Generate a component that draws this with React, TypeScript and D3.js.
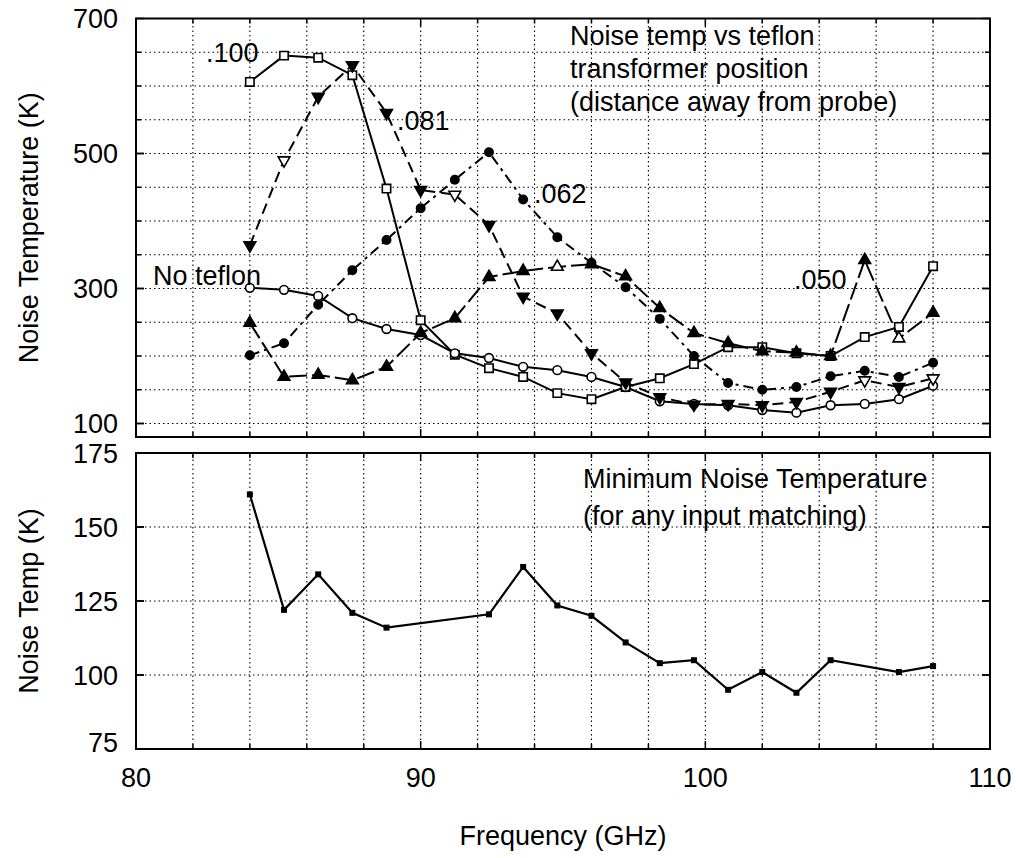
import React from 'react';
import * as d3 from 'd3';

// frequencies (GHz) shared by the top panel
const freq = [84.0, 85.2, 86.4, 87.6, 88.8, 90.0, 91.2, 92.4, 93.6, 94.8, 96.0, 97.2, 98.4, 99.6, 100.8, 102.0, 103.2, 104.4, 105.6, 106.8, 108.0];

// noise temperature (K) for each teflon position
const pos100 = [606, 645, 642, 616, 448, 253, 202, 182, 169, 145, 136, 154, 167, 188, 213, 213, 204, 200, 228, 243, 333];
const pos081 = [364, 490, 584, 631, 560, 446, 439, 394, 288, 263, 204, 161, 139, 128, 129, 127, 132, 147, 164, 154, 167];
const pos062 = [201, 219, 276, 327, 372, 419, 461, 502, 432, 376, 338, 302, 255, 200, 160, 150, 154, 170, 178, 169, 190];
const pos050 = [249, 169, 172, 164, 184, 234, 256, 317, 326, 332, 336, 318, 271, 234, 219, 207, 205, 200, 342, 226, 264];
const noTeflon = [301, 298, 289, 256, 240, 231, 204, 197, 184, 179, 169, 154, 133, 129, 127, 120, 116, 127, 129, 136, 156];

// indices drawn with hollow markers on the filled-triangle curves
const open081 = [1, 6, 18, 20];
const open050 = [9, 19];

// minimum noise temperature (bottom panel)
const minFreq = [84.0, 85.2, 86.4, 87.6, 88.8, 92.4, 93.6, 94.8, 96.0, 97.2, 98.4, 99.6, 100.8, 102.0, 103.2, 104.4, 106.8, 108.0];
const minTemp = [161, 122, 134, 121, 116, 120.5, 136.5, 123.5, 120, 111, 104, 105, 95, 101, 94, 105, 101, 103];

const xTicks = [80, 90, 100, 110];
const topTicks = [100, 300, 500, 700];
const botTicks = [75, 100, 125, 150, 175];

const FONT = 'Liberation Sans, Arial, Helvetica, sans-serif';

const x = d3.scaleLinear().domain([80, 110]).range([136, 990]);
const yTop = d3.scaleLinear().domain([80, 700]).range([437, 18.5]);
const yBot = d3.scaleLinear().domain([75, 175]).range([749, 453]);

const series = [
  { name: '.100', values: pos100, dash: null, sym: d3.symbolSquare, size: 70, fill: 'open', rot: 0, open: [] as number[] },
  { name: 'No teflon', values: noTeflon, dash: null, sym: d3.symbolCircle, size: 60, fill: 'open', rot: 0, open: [] as number[] },
  { name: '.081', values: pos081, dash: '11,6', sym: d3.symbolTriangle, size: 60, fill: 'solid', rot: 180, open: open081 },
  { name: '.062', values: pos062, dash: '10,5,3,5', sym: d3.symbolCircle, size: 55, fill: 'solid', rot: 0, open: [] as number[] },
  { name: '.050', values: pos050, dash: '18,5', sym: d3.symbolTriangle, size: 60, fill: 'solid', rot: 0, open: open050 },
];

function Panel({ y, grid, labels, top }: { y: any; grid: number[]; labels: number[]; top: boolean }) {
  const [y0, y1] = y.range();
  const vGrid = d3.range(82, 110, 2);
  return (
    <g>
      {grid.map(v => (
        <line key={'h' + v} x1={x(80)} x2={x(110)} y1={y(v)} y2={y(v)} stroke="#000" strokeWidth={1.1} strokeDasharray="1.5,3" />
      ))}
      {vGrid.map(v => (
        <line key={'v' + v} x1={x(v)} x2={x(v)} y1={y0} y2={y1} stroke="#000" strokeWidth={1.1} strokeDasharray="1.5,3" />
      ))}
      {/* ticks */}
      {[...grid, ...labels].map((v, i) => {
        const len = labels.includes(v) ? 8 : 5;
        return (
          <g key={'t' + i}>
            <line x1={x(80)} x2={x(80) + len} y1={y(v)} y2={y(v)} stroke="#000" strokeWidth={1.5} />
            <line x1={x(110)} x2={x(110) - len} y1={y(v)} y2={y(v)} stroke="#000" strokeWidth={1.5} />
          </g>
        );
      })}
      {d3.range(80, 111, 2).map(v => {
        const len = v % 10 === 0 ? 8 : 5;
        return (
          <g key={'xt' + v}>
            <line x1={x(v)} x2={x(v)} y1={y0} y2={y0 - len} stroke="#000" strokeWidth={1.5} />
            <line x1={x(v)} x2={x(v)} y1={y1} y2={y1 + len} stroke="#000" strokeWidth={1.5} />
          </g>
        );
      })}
      <rect x={x(80)} y={y1} width={x(110) - x(80)} height={y0 - y1} fill="none" stroke="#000" strokeWidth={2} />
      {labels.map(v => (
        <text key={'l' + v} x={118} y={y(v) + (v === 75 && !top ? -7 : 0)} dy="0.36em" textAnchor="end" fontSize={27} fontFamily={FONT}>
          {v}
        </text>
      ))}
    </g>
  );
}

export default function App() {
  const line = d3.line<[number, number]>().x(d => x(d[0])).y(d => yTop(d[1]));
  const lineBot = d3.line<[number, number]>().x(d => x(d[0])).y(d => yBot(d[1]));

  return (
    <svg width={1016} height={858} style={{ position: 'absolute', left: 0, top: 0, background: '#fff' }} fontFamily={FONT}>
      <rect width={1016} height={858} fill="#fff" />
      <Panel y={yTop} grid={d3.range(100, 700, 50)} labels={topTicks} top={true} />
      <Panel y={yBot} grid={[100, 125, 150]} labels={botTicks} top={false} />

      {series.map(s => {
        const pts = freq.map((f, i) => [f, s.values[i]] as [number, number]);
        const sym = d3.symbol().type(s.sym).size(s.size)();
        return (
          <g key={s.name}>
            <path d={line(pts) || ''} fill="none" stroke="#000" strokeWidth={2} strokeDasharray={s.dash || undefined} />
            {pts.map((p, i) => {
              const hollow = s.fill === 'open' || s.open.includes(i);
              return (
                <path
                  key={i}
                  d={sym || ''}
                  transform={`translate(${x(p[0])},${yTop(p[1])}) rotate(${s.rot})`}
                  fill={hollow ? '#fff' : '#000'}
                  stroke="#000"
                  strokeWidth={1.6}
                />
              );
            })}
          </g>
        );
      })}

      {/* bottom panel curve */}
      <path d={lineBot(minFreq.map((f, i) => [f, minTemp[i]] as [number, number])) || ''} fill="none" stroke="#000" strokeWidth={2.2} />
      {minFreq.map((f, i) => (
        <rect key={i} x={x(f) - 3} y={yBot(minTemp[i]) - 3} width={6} height={6} fill="#000" />
      ))}

      {/* annotations */}
      <g fontSize={27}>
        <text x={570} y={45}>Noise temp vs teflon</text>
        <text x={570} y={78}>transformer position</text>
        <text x={570} y={111}>(distance away from probe)</text>
        <text x={206} y={62}>.100</text>
        <text x={397} y={130}>.081</text>
        <text x={534} y={203}>.062</text>
        <text x={794} y={289}>.050</text>
        <text x={153} y={285}>No teflon</text>
        <text x={583} y={488}>Minimum Noise Temperature</text>
        <text x={583} y={525}>(for any input matching)</text>
      </g>

      {/* x axis labels */}
      {xTicks.map(v => (
        <text key={v} x={x(v)} y={787} textAnchor="middle" fontSize={27}>{v}</text>
      ))}
      <text x={(x(80) + x(110)) / 2} y={845} textAnchor="middle" fontSize={27}>Frequency (GHz)</text>

      {/* y axis titles */}
      <text transform={`translate(38,${(yTop(700) + yTop(80)) / 2}) rotate(-90)`} textAnchor="middle" fontSize={27}>Noise Temperature (K)</text>
      <text transform={`translate(38,${(yBot(175) + yBot(75)) / 2}) rotate(-90)`} textAnchor="middle" fontSize={27}>Noise Temp (K)</text>
    </svg>
  );
}
